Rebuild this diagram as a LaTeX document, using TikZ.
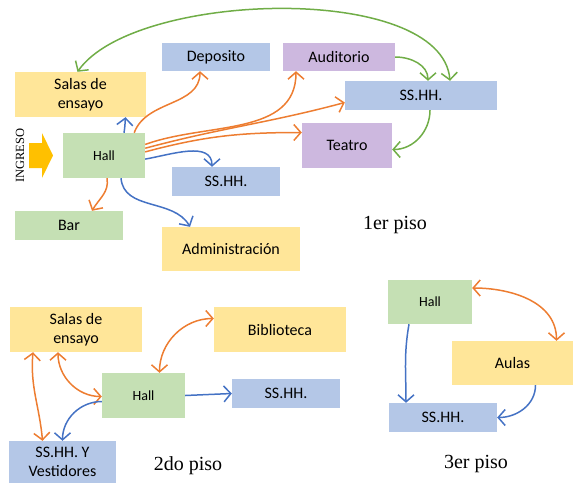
\documentclass[tikz,border=0pt]{standalone}
\usepackage{fontspec}
\setmainfont{Liberation Serif}
\setsansfont{Carlito}
\usepackage{xcolor}
\usetikzlibrary{arrows.meta}
\definecolor{yelbox}{HTML}{FFE699}
\definecolor{blubox}{HTML}{B4C7E7}
\definecolor{purbox}{HTML}{CDB8DF}
\definecolor{grnbox}{HTML}{C5E0B4}
\definecolor{oraline}{HTML}{ED7D31}
\definecolor{bluline}{HTML}{4472C4}
\definecolor{grnline}{HTML}{70AD47}
\definecolor{ingcol}{HTML}{FFC000}

\begin{document}
\begin{tikzpicture}[x=1pt, y=1pt,
  box/.style={rectangle, inner sep=1pt, align=center, font=\sffamily\fontsize{16}{19}\selectfont},
  yel/.style={box, fill=yelbox}, blu/.style={box, fill=blubox},
  pur/.style={box, fill=purbox}, grn/.style={box, fill=grnbox},
  hallbox/.style={grn, font=\sffamily\fontsize{14}{16}\selectfont},
  piso/.style={font=\fontsize{20}{22}\selectfont},
  >={Straight Barb[length=7pt,width=16pt]},
  ora/.style={->, line width=1.5pt, draw=oraline},
  bl/.style={->, line width=1.5pt, draw=bluline},
  gr/.style={->, line width=1.5pt, draw=grnline}]
  \useasboundingbox (0,0) rectangle (573,-483);
  % 1er piso
  \node[yel, minimum width=131, minimum height=45] (salasA) at (80.5,-94.5) {Salas de\\ensayo};
  \node[blu, minimum width=108, minimum height=28] (depo) at (216,-57) {Deposito};
  \node[pur, minimum width=112, minimum height=28] (audi) at (339,-57) {Auditorio};
  \node[blu, minimum width=152, minimum height=29] (ssA) at (421,-95.5) {SS.HH.};
  \node[pur, minimum width=90, minimum height=45] (teatro) at (347,-145.5) {Teatro};
  \node[hallbox, minimum width=82, minimum height=45] (hallA) at (104,-155.5) {Hall};
  \node[blu, minimum width=108, minimum height=29] (ssB) at (226,-181.5) {SS.HH.};
  \node[grn, minimum width=108, minimum height=29] (bar) at (69,-225.5) {Bar};
  \node[yel, minimum width=138, minimum height=44] (admin) at (231,-249) {Administración};
  \node[rotate=90, font=\fontsize{12.5}{14}\selectfont] (ingreso) at (20,-155.5) {INGRESO};
  \fill[ingcol] (29,-143) -- (42,-143) -- (42,-133) -- (53,-155.5) -- (42,-178) -- (42,-168) -- (29,-168) -- cycle;
  \node[piso] (p1) at (395,-225) {1er piso};

  \draw[gr, <->] ([xshift=-3pt]salasA.north) to[out=55, in=95, looseness=0.68] ([xshift=29pt]ssA.north);
  \draw[gr] (audi.east) to[out=0, in=90] ([xshift=7pt]ssA.north);
  \draw[gr] ([xshift=9pt]ssA.south) to[out=-90, in=0] ([yshift=-4pt]teatro.east);
  \draw[ora] ([xshift=-11pt]hallA.north east) to[out=70, in=-90] ([xshift=-16pt]depo.south);
  \draw[ora] (hallA.15) to[out=20, in=-90] ([xshift=-43pt]audi.south);
  \draw[ora] (hallA.10) to[out=15, in=195] ([yshift=-7pt]ssA.west);
  \draw[ora] (hallA.5) to[out=15, in=180] ([yshift=13pt]teatro.west);
  \draw[ora] ([xshift=3pt]hallA.south) to[out=-80, in=60] ([xshift=23pt]bar.north);
  \draw[bl] ([xshift=20pt]hallA.north) to[out=80, in=-95] ([xshift=45pt]salasA.south);
  \draw[bl] (hallA.-5) to[out=10, in=90] ([xshift=-14pt]ssB.north);
  \draw[bl] ([xshift=17pt]hallA.south) to[out=-85, in=120] ([xshift=-41pt]admin.north);

  % 2do piso
  \node[yel, minimum width=132, minimum height=45] (salasB) at (76,-329.5) {Salas de\\ensayo};
  \node[yel, minimum width=132, minimum height=45] (biblio) at (280,-329.5) {Biblioteca};
  \node[hallbox, minimum width=83, minimum height=45] (hallB) at (143.5,-395.5) {Hall};
  \node[blu, minimum width=108, minimum height=29] (ssC) at (286,-393.5) {SS.HH.};
  \node[blu, minimum width=107, minimum height=42] (ssD) at (62.5,-462) {SS.HH. Y\\Vestidores};
  \node[piso] (p2) at (188,-466) {2do piso};

  \draw[ora, <->] ([yshift=11pt]biblio.west) to[out=180, in=90] ([xshift=16pt]hallB.north);
  \draw[ora, <->] ([xshift=-18pt]salasB.south) to[out=-90, in=180] ([yshift=-1pt]hallB.west);
  \draw[ora, <->] ([xshift=-43pt]salasB.south) to[out=-95, in=95] ([xshift=-20pt]ssD.north);
  \draw[bl] ([yshift=-6pt]hallB.west) to[out=180, in=90] (ssD.north);
  \draw[bl] (hallB.east) -- (ssC.west);

  % 3er piso
  \node[hallbox, minimum width=84, minimum height=44] (hallC) at (430,-302) {Hall};
  \node[yel, minimum width=121, minimum height=44] (aulas) at (512.5,-363) {Aulas};
  \node[blu, minimum width=108, minimum height=29] (ssE) at (443,-417.5) {SS.HH.};
  \node[piso] (p3) at (476,-464) {3er piso};

  \draw[ora, <->] ([yshift=14pt]hallC.east) to[out=0, in=90] ([xshift=44pt]aulas.north);
  \draw[bl] ([xshift=-21pt]hallC.south) to[out=-100, in=90] ([xshift=-37pt]ssE.north);
  \draw[bl] ([xshift=23pt]aulas.south) to[out=-90, in=0] (ssE.east);
\end{tikzpicture}
\end{document}
